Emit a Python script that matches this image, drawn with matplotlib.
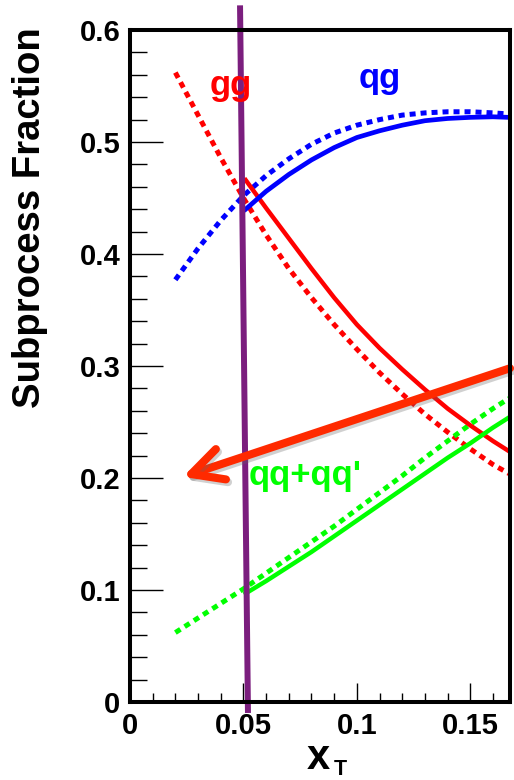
import matplotlib
matplotlib.use("Agg")
import matplotlib.pyplot as plt
import matplotlib.patheffects as pe
from matplotlib.patches import FancyArrowPatch, ArrowStyle
from matplotlib.ticker import MultipleLocator

plt.rcParams['font.family'] = ['Liberation Sans', 'DejaVu Sans']
plt.rcParams['font.weight'] = 'bold'

# Subprocess fractions over the full x_T range (dotted)
xt_full = [0.02, 0.03, 0.04, 0.05, 0.06, 0.07, 0.08, 0.09, 0.10, 0.11,
           0.12, 0.13, 0.14, 0.15, 0.16, 0.167]
gg_full = [0.562, 0.524, 0.486, 0.450, 0.417, 0.387, 0.361, 0.337, 0.315, 0.294,
           0.275, 0.257, 0.241, 0.226, 0.212, 0.204]
qg_full = [0.377, 0.405, 0.430, 0.452, 0.470, 0.485, 0.498, 0.508, 0.515, 0.520,
           0.524, 0.526, 0.527, 0.527, 0.526, 0.525]
qq_full = [0.062, 0.075, 0.088, 0.101, 0.115, 0.129, 0.143, 0.157, 0.172, 0.187,
           0.202, 0.218, 0.233, 0.248, 0.262, 0.271]

# Subprocess fractions over the restricted x_T range (solid)
xt_cut = [0.051, 0.06, 0.07, 0.08, 0.09, 0.10, 0.11, 0.12, 0.13, 0.14,
          0.15, 0.16, 0.167]
gg_cut = [0.466, 0.441, 0.414, 0.387, 0.361, 0.337, 0.316, 0.297, 0.279, 0.262,
          0.247, 0.233, 0.224]
qg_cut = [0.440, 0.456, 0.471, 0.484, 0.495, 0.504, 0.510, 0.515, 0.519, 0.521,
          0.522, 0.5225, 0.522]
qq_cut = [0.097, 0.108, 0.121, 0.134, 0.148, 0.162, 0.176, 0.190, 0.204, 0.218,
          0.231, 0.245, 0.254]

x_ticks = [0, 0.05, 0.1, 0.15]
x_tick_labels = ['0', '0.05', '0.1', '0.15']
y_ticks = [0, 0.1, 0.2, 0.3, 0.4, 0.5, 0.6]
y_tick_labels = ['0', '0.1', '0.2', '0.3', '0.4', '0.5', '0.6']

RED, BLUE, GREEN = '#FF0000', '#0000FF', '#00FF00'

W, H = 514, 780
fig = plt.figure(figsize=(W / 100, H / 100), dpi=100)
ax = fig.add_axes([130 / W, 78 / H, 380 / W, 672 / H])
ax.set_xlim(0, 0.1675)
ax.set_ylim(0, 0.6)

dot = (0, (1.2, 1.0))
line_kw = dict(solid_joinstyle='round', dash_joinstyle='round')
ax.plot(xt_full, gg_full, color=RED, lw=3.6, ls=dot, dash_capstyle='butt', **line_kw)
ax.plot(xt_full, qg_full, color=BLUE, lw=3.6, ls=dot, dash_capstyle='butt', **line_kw)
ax.plot(xt_full, qq_full, color=GREEN, lw=3.6, ls=dot, dash_capstyle='butt', **line_kw)
ax.plot(xt_cut, gg_cut, color=RED, lw=3.2, **line_kw)
ax.plot(xt_cut, qg_cut, color=BLUE, lw=3.4, **line_kw)
ax.plot(xt_cut, qq_cut, color=GREEN, lw=3.2, **line_kw)

ax.text(0.0445, 0.542, 'gg', color=RED, fontsize=25, fontweight='bold',
        ha='center', va='baseline', zorder=5)
ax.text(0.110, 0.548, 'qg', color=BLUE, fontsize=25, fontweight='bold',
        ha='center', va='baseline', zorder=5)
ax.text(0.0773, 0.194, "qq+qq'", color=GREEN, fontsize=25, fontweight='bold',
        ha='center', va='baseline', zorder=6)

# x_T cut marker
ax.plot([0.0485, 0.052], [0.622, -0.0098], color='#7B1E7E', lw=4.3,
        solid_capstyle='butt', clip_on=False, zorder=4)

# pointer arrow
arrow = FancyArrowPatch(
    posA=(0.1675, 0.298), posB=(0.0233, 0.201),
    arrowstyle=ArrowStyle('->', head_length=22.5, head_width=11.5),
    mutation_scale=1, lw=5.8, color='#FF2A00', capstyle='round',
    joinstyle='round', shrinkA=0, shrinkB=0, clip_on=False, zorder=7,
    transform=ax.transData,
    path_effects=[pe.SimpleLineShadow(offset=(1.5, -2), shadow_color='0.4', alpha=0.3),
                  pe.Normal()])
ax.add_patch(arrow)

ax.set_xticks(x_ticks, x_tick_labels)
ax.set_yticks(y_ticks, y_tick_labels)
ax.xaxis.set_minor_locator(MultipleLocator(0.01))
ax.yaxis.set_minor_locator(MultipleLocator(0.02))
ax.tick_params(axis='x', which='major', direction='in', length=13.7, width=1,
               top=False, pad=7, labelsize=21)
ax.tick_params(axis='x', which='minor', direction='in', length=6.8, width=1, top=False)
ax.tick_params(axis='y', which='major', direction='in', length=24, width=1,
               right=False, pad=7, labelsize=21)
ax.tick_params(axis='y', which='minor', direction='in', length=12, width=1, right=False)
for lab in ax.get_xticklabels() + ax.get_yticklabels():
    lab.set_fontweight('bold')

for s in ax.spines.values():
    s.set_linewidth(2.9)
    s.set_zorder(8)

fig.text(30 / W, 1 - 27 / H, 'Subprocess Fraction', rotation=90, ha='center',
         va='top', fontsize=27.5, fontweight='bold')
fig.text(307 / W, 1 - 769 / H, 'x', fontsize=30, fontweight='bold',
         ha='left', va='baseline')
fig.text(334 / W, 1 - 775 / H, 'T', fontsize=15.5, fontweight='bold',
         ha='left', va='baseline')

fig.savefig('out.png', dpi=100)
